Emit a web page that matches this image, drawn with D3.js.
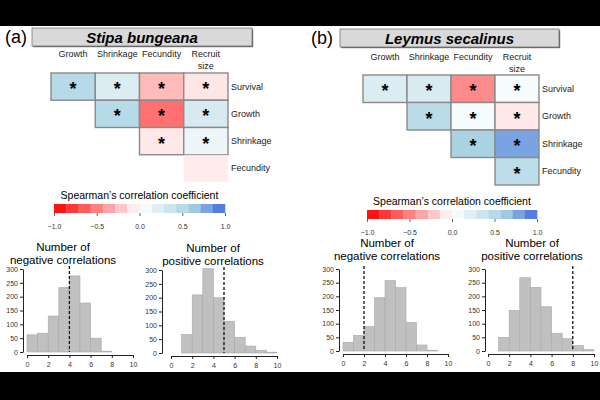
<!DOCTYPE html>
<html>
<head>
<meta charset="utf-8">
<style>
  body { margin: 0; background: #000; }
  svg { display: block; font-family: "Liberation Sans", Arial, sans-serif; }
  .tick text { fill: #333; }
</style>
</head>
<body>
<svg width="600" height="400"></svg>
<script src="https://d3js.org/d3.v7.min.js"></script>
<script>
// ---- data ----
const colLabels = ["Growth", "Shrinkage", "Fecundity", "Recruit size"];
const rowLabels = ["Survival", "Growth", "Shrinkage", "Fecundity"];

// Spearman correlations (upper triangle, row x col), null = no cell
const corrA = [
  [0.5, 0.25, -0.27, -0.1],
  [null, 0.5, -0.56, 0.28],
  [null, null, -0.09, 0.12],
  [null, null, null, -0.1]
];
const sigA = [
  [1, 1, 1, 1],
  [0, 1, 1, 1],
  [0, 0, 1, 1],
  [0, 0, 0, 0]
];
const corrB = [
  [0.25, 0.27, -0.46, 0.06],
  [null, 0.48, 0.06, -0.09],
  [null, null, 0.6, 0.78],
  [null, null, null, 0.47]
];
const sigB = [
  [1, 1, 1, 1],
  [0, 1, 1, 1],
  [0, 0, 1, 1],
  [0, 0, 0, 1]
];

// histogram counts for bins [0,1), [1,2) ... [9,10)
const negA = [62, 68, 130, 233, 275, 177, 50, 3, 0, 0];
const posA = [0, 67, 210, 305, 200, 115, 57, 25, 10, 3];
const negB = [32, 57, 90, 195, 258, 232, 105, 22, 3, 0];
const posB = [0, 50, 148, 268, 233, 162, 65, 45, 20, 5];
const observed = { negA: 4, posA: 5, negB: 2, posB: 8 };

const barTicks = [-1, -0.5, 0, 0.5, 1];
const yTicks = [0, 50, 100, 150, 200, 250, 300];
const xTicks = [0, 2, 4, 6, 8, 10];

// ---- drawing ----
const svg = d3.select("svg");
svg.append("rect").attr("x", 0).attr("y", 26).attr("width", 600).attr("height", 346).attr("fill", "white");

const color = d3.scaleLinear()
  .domain([-1, 0, 0.6, 1])
  .range(["#ff0000", "#ffffff", "#a9d3e3", "#4169e1"]);

function drawPanel(p) {
  const g = svg.append("g");

  // panel letter + title box
  g.append("text").attr("x", p.letterX).attr("y", p.titleY + 6)
    .attr("text-anchor", "middle").attr("font-size", 18).text(p.letter);
  g.append("rect").attr("x", p.boxX + 1.2).attr("y", p.boxY + 1.2)
    .attr("width", p.boxW).attr("height", p.boxH).attr("fill", "#666");
  g.append("rect").attr("x", p.boxX).attr("y", p.boxY)
    .attr("width", p.boxW).attr("height", p.boxH)
    .attr("fill", "#d9d9d9").attr("stroke", "#777").attr("stroke-width", 0.8);
  g.append("text").attr("x", p.boxX + p.boxW / 2).attr("y", p.titleY + 5.5)
    .attr("text-anchor", "middle").attr("font-size", 15)
    .attr("font-weight", "bold").attr("font-style", "italic").text(p.title);

  // correlation grid
  const x = d3.scaleBand().domain(colLabels).range([p.cellX0, p.cellX1]);
  const y = d3.scaleBand().domain(rowLabels).range([p.cellY0, p.cellY1]);

  colLabels.forEach(c => {
    const parts = c === "Recruit size" ? ["Recruit", "size"] : [c];
    parts.forEach((t, i) => {
      g.append("text").attr("x", x(c) + x.bandwidth() / 2)
        .attr("y", p.colLabY + 3 + i * 11.5)
        .attr("text-anchor", "middle").attr("font-size", 9).attr("fill", "#222").text(t);
    });
  });
  rowLabels.forEach(r => {
    g.append("text").attr("x", p.cellX1 + 3).attr("y", y(r) + y.bandwidth() / 2 + 3)
      .attr("font-size", 9).attr("fill", "#222").text(r);
  });

  const cells = [];
  p.corr.forEach((row, i) => row.forEach((v, j) => {
    if (v !== null) cells.push({ r: rowLabels[i], c: colLabels[j], v: v, sig: p.sig[i][j] });
  }));

  g.selectAll(".cell").data(cells).join("rect")
    .attr("x", d => x(d.c)).attr("y", d => y(d.r))
    .attr("width", x.bandwidth()).attr("height", y.bandwidth())
    .attr("fill", d => color(d.v))
    .attr("fill-opacity", d => d.sig ? 1 : 0.8)
    .attr("stroke", d => d.sig ? "#8a8a8a" : "none")
    .attr("stroke-width", 1.4);

  g.selectAll(".star").data(cells.filter(d => d.sig)).join("text")
    .attr("x", d => x(d.c) + x.bandwidth() / 2)
    .attr("y", d => y(d.r) + y.bandwidth() / 2 + 8.5)
    .attr("text-anchor", "middle").attr("font-size", 18).attr("font-weight", "bold").text("*");

  // colour bar
  const cb = d3.scaleLinear().domain([-1, 1]).range([p.cbX0, p.cbX1]);
  const nBins = 14;
  const bins = d3.range(nBins).map(i => ({ a: -1 + i * 2 / nBins, b: -1 + (i + 1) * 2 / nBins }));
  g.append("text").attr("x", (p.cbX0 + p.cbX1) / 2).attr("y", p.cbTitleY + 4)
    .attr("text-anchor", "middle").attr("font-size", 10.5).text("Spearman\u2019s correlation coefficient");
  g.selectAll(".bin").data(bins).join("rect")
    .attr("x", d => cb(d.a)).attr("y", p.cbY)
    .attr("width", d => cb(d.b) - cb(d.a) + 0.3).attr("height", 9)
    .attr("fill", d => color((d.a + d.b) / 2));
  const cbAxis = g.append("g").attr("transform", `translate(0,${p.cbY + 9})`)
    .call(d3.axisBottom(cb).tickValues(barTicks).tickFormat(d3.format(".1f"))
      .tickSize(3).tickSizeOuter(0).tickPadding(p.cbPad));
  cbAxis.select(".domain").remove();
  cbAxis.selectAll("line").attr("stroke", "#666");
  cbAxis.selectAll("text").attr("font-size", 7).attr("font-family", "Liberation Sans, Arial, sans-serif");

  // histograms
  p.hists.forEach(h => drawHist(g, h));
}

function drawHist(g, h) {
  const x = d3.scaleLinear().domain([0, 10]).range([h.x0, h.x1]);
  const y = d3.scaleLinear().domain([0, 300]).range([h.y0, h.y300]);

  g.append("text").attr("x", h.titleX).attr("y", h.titleY + 4)
    .attr("text-anchor", "middle").attr("font-size", 11.5).text("Number of");
  g.append("text").attr("x", h.titleX).attr("y", h.titleY + 16.5)
    .attr("text-anchor", "middle").attr("font-size", 11.5).text(h.label);

  const bars = h.counts.map((c, i) => ({ i: i, c: c })).filter(d => d.c > 0);
  g.selectAll(null).data(bars).join("rect")
    .attr("x", d => x(d.i)).attr("y", d => y(d.c))
    .attr("width", x(1) - x(0)).attr("height", d => y(0) - y(d.c))
    .attr("fill", "#c0c0c0").attr("stroke", "#a8a8a8").attr("stroke-width", 0.6);

  g.append("line").attr("x1", x(h.obs)).attr("x2", x(h.obs))
    .attr("y1", y(300) - 3).attr("y2", y(0))
    .attr("stroke", "#111").attr("stroke-width", 1.3).attr("stroke-dasharray", "3,2");

  const ya = g.append("g").attr("transform", `translate(${h.yAxisX},0)`)
    .call(d3.axisLeft(y).tickValues(yTicks).tickSize(3).tickSizeOuter(0).tickPadding(2));
  const xa = g.append("g").attr("transform", `translate(0,${h.xAxisY})`)
    .call(d3.axisBottom(x).tickValues(xTicks).tickSize(3).tickSizeOuter(0).tickPadding(4));
  [ya, xa].forEach(a => {
    a.selectAll("text").attr("font-size", 7).attr("font-family", "Liberation Sans, Arial, sans-serif");
    a.select(".domain").attr("stroke", "#222");
    a.selectAll("line").attr("stroke", "#222");
  });
}

drawPanel({
  letter: "(a)", letterX: 16, title: "Stipa bungeana", titleY: 37,
  boxX: 32, boxY: 28, boxW: 220, boxH: 18,
  cellX0: 51, cellX1: 228, cellY0: 73, cellY1: 182, colLabY: 54,
  corr: corrA, sig: sigA,
  cbX0: 54, cbX1: 225, cbY: 204, cbTitleY: 195, cbPad: 8,
  hists: [
    { counts: negA, obs: observed.negA, label: "negative correlations", titleX: 63, titleY: 247,
      x0: 27, x1: 133, y0: 352, y300: 269, yAxisX: 23, xAxisY: 355 },
    { counts: posA, obs: observed.posA, label: "positive correlations", titleX: 213, titleY: 248,
      x0: 171, x1: 277, y0: 353, y300: 270, yAxisX: 162, xAxisY: 356 }
  ]
});

drawPanel({
  letter: "(b)", letterX: 322, title: "Leymus secalinus", titleY: 38,
  boxX: 340, boxY: 29, boxW: 219, boxH: 18,
  cellX0: 363, cellX1: 539, cellY0: 75, cellY1: 185, colLabY: 57,
  corr: corrB, sig: sigB,
  cbX0: 367, cbX1: 537, cbY: 210, cbTitleY: 201, cbPad: 8,
  hists: [
    { counts: negB, obs: observed.negB, label: "negative correlations", titleX: 387, titleY: 243,
      x0: 343, x1: 448, y0: 351, y300: 269, yAxisX: 339, xAxisY: 354 },
    { counts: posB, obs: observed.posB, label: "positive correlations", titleX: 532, titleY: 243,
      x0: 488, x1: 594, y0: 351, y300: 269, yAxisX: 485, xAxisY: 354 }
  ]
});
</script>
</body>
</html>
